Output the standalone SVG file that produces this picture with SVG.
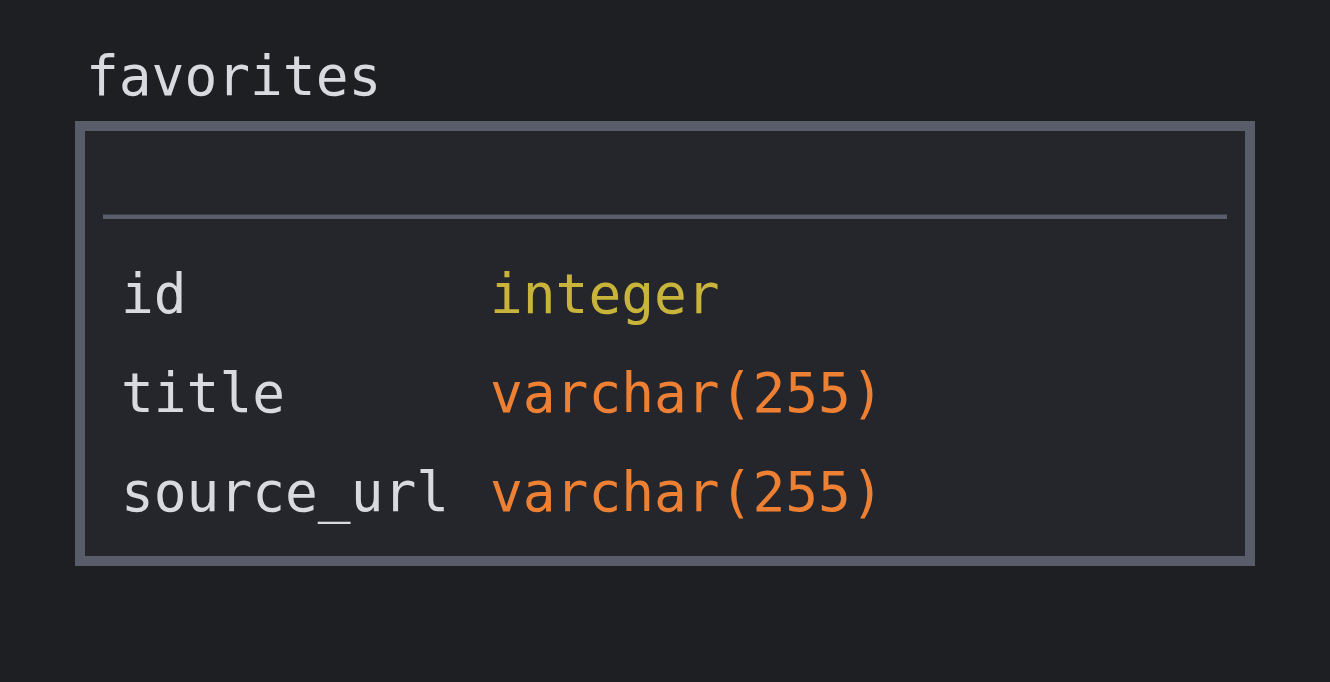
<svg xmlns="http://www.w3.org/2000/svg" width="1330" height="682" viewBox="0 0 1330 682">
<style>
.t{font-family:"DejaVu Sans Mono","Liberation Mono",monospace;font-size:54.5px}
.name{fill:#d8dadf}
.int{fill:#c9b43b}
.vc{fill:#ee8034}
</style>
<rect x="0" y="0" width="1330" height="682" fill="#1e1f23"/>
<g id="favorites">
<text class="t name" x="86" y="95">favorites</text>
<rect x="80" y="126" width="1170" height="435" fill="#25262b" stroke="#595d6a" stroke-width="10"/>
<line x1="103" y1="216.8" x2="1227" y2="216.8" stroke="#595d6a" stroke-width="4.5"/>
<text class="t name" x="121" y="313">id</text>
<text class="t int" x="490" y="313">integer</text>
<text class="t name" x="121" y="412">title</text>
<text class="t vc" x="490" y="412">varchar(255)</text>
<text class="t name" x="121" y="511">source_url</text>
<text class="t vc" x="490" y="511">varchar(255)</text>
</g>
<g id="connectors"/>
</svg>
